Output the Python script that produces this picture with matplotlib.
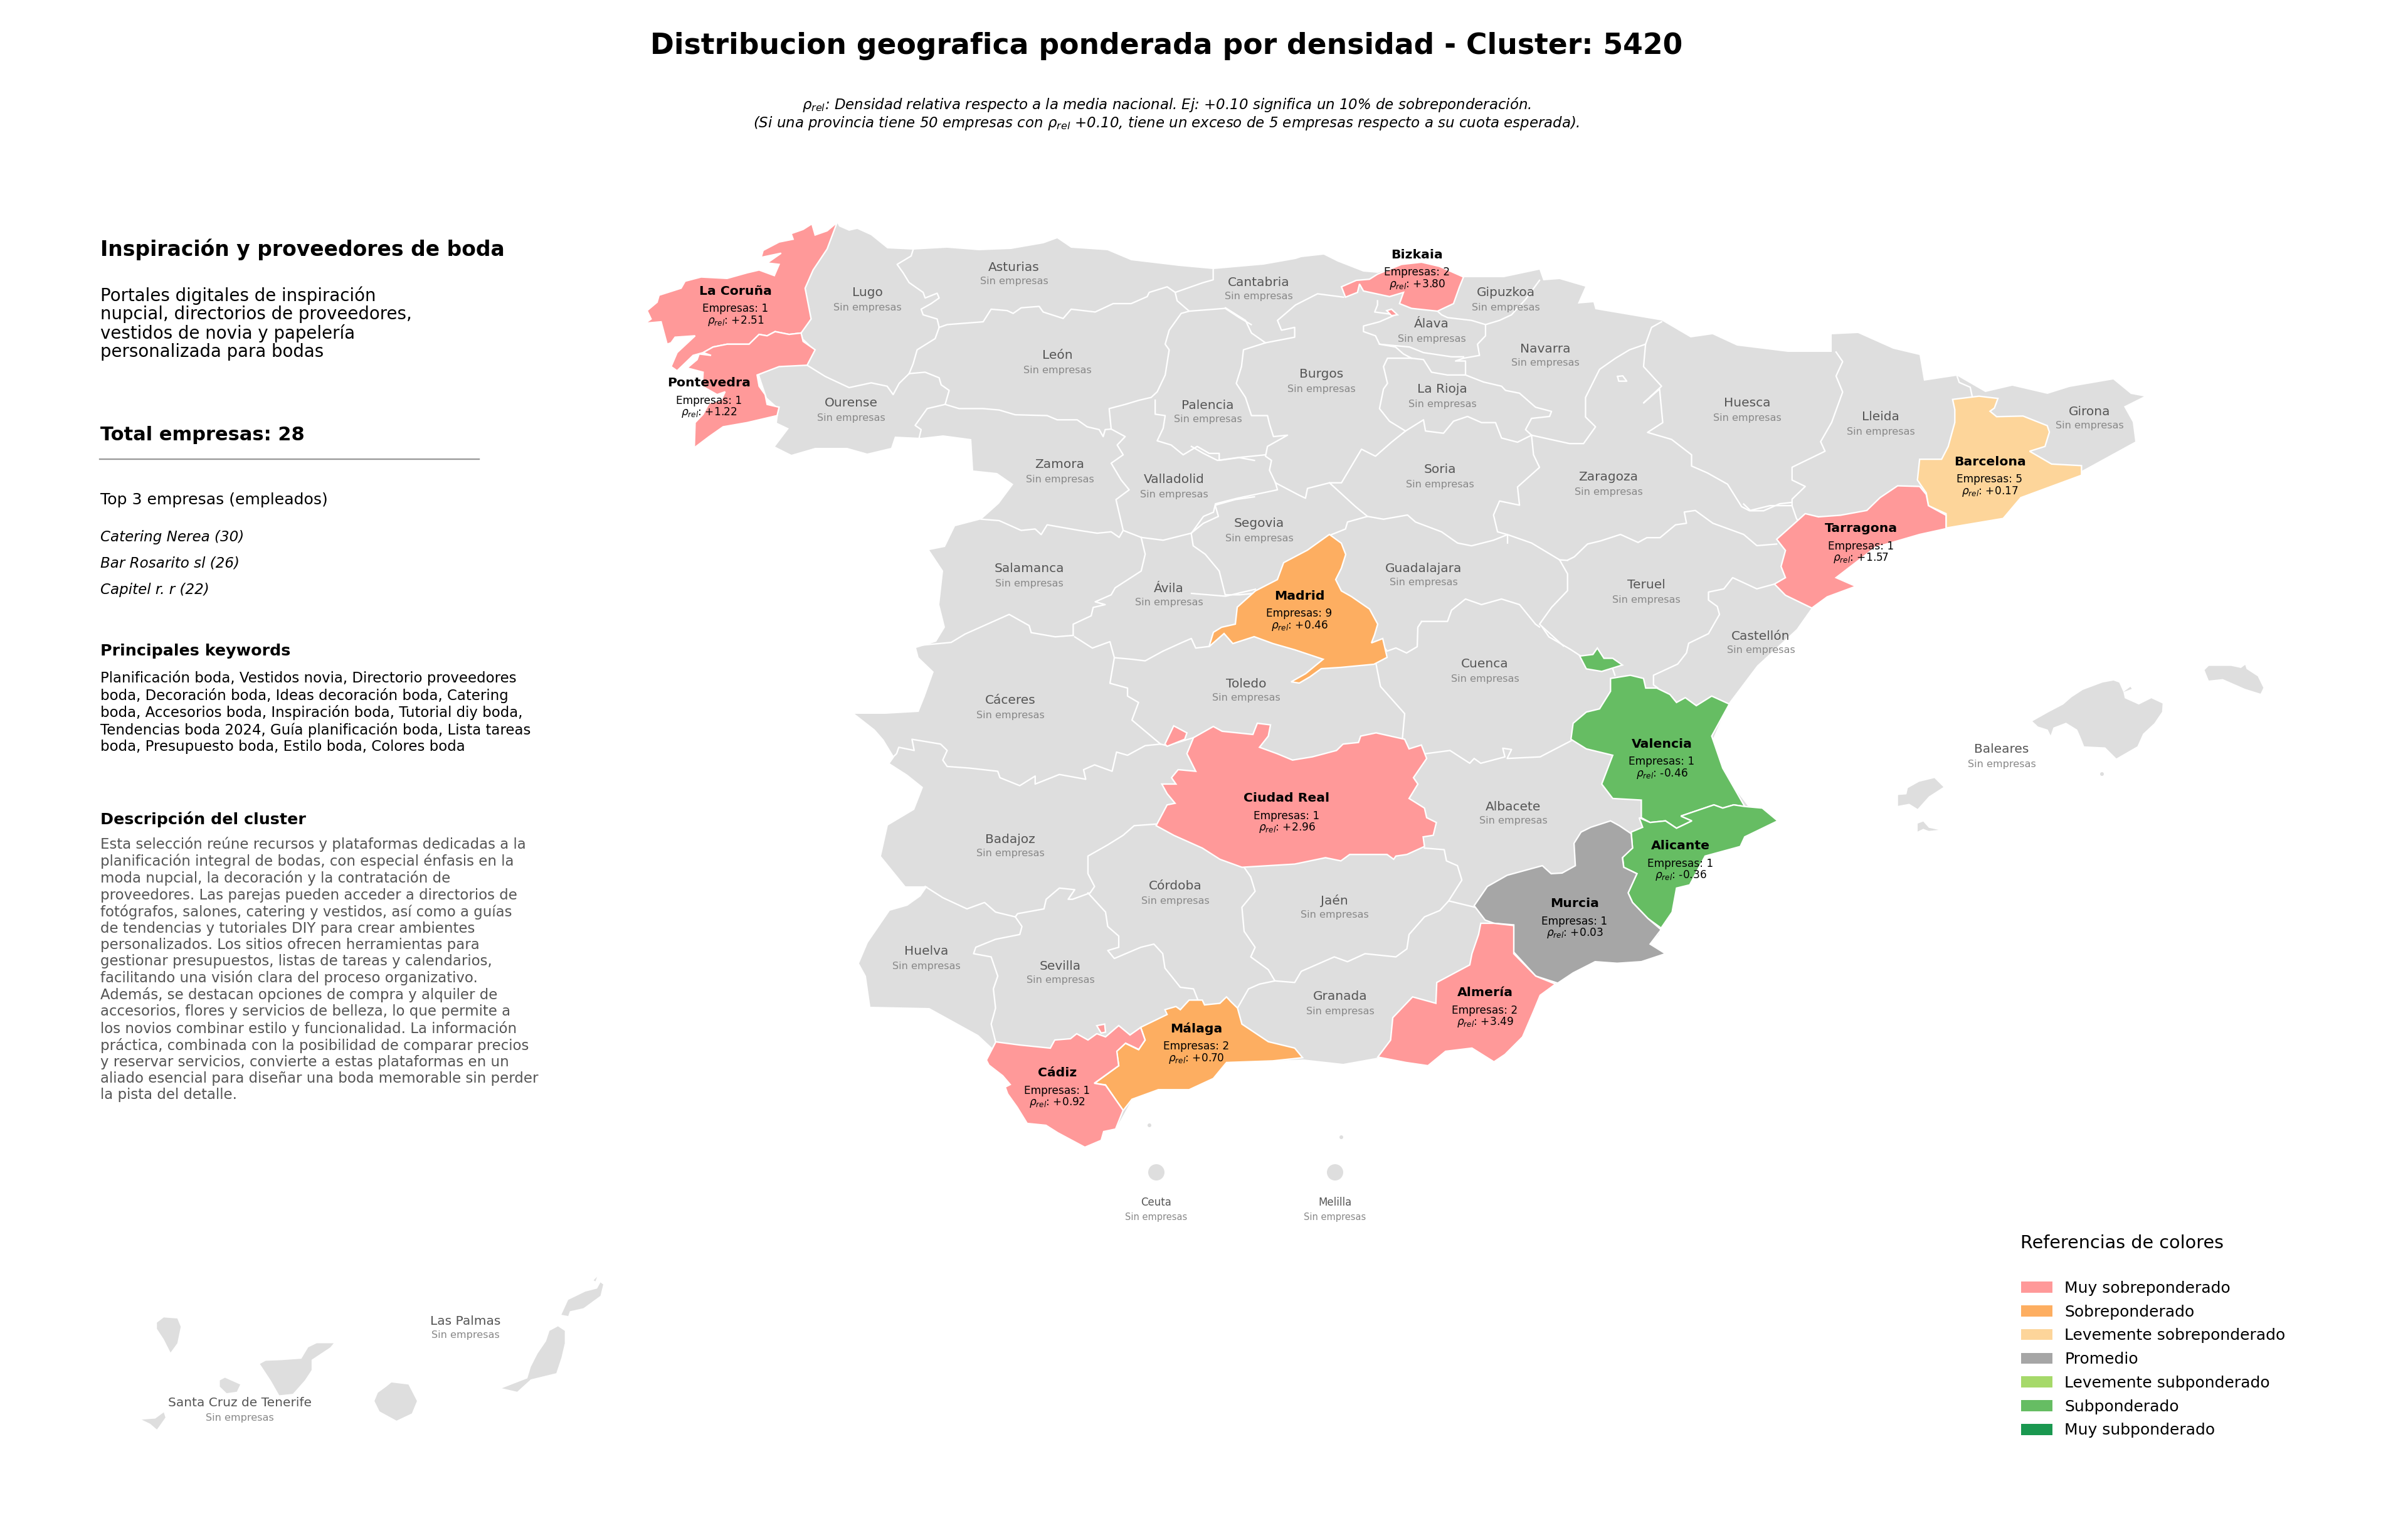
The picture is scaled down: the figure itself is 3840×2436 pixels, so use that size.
#Weighted geographic distribution map of one cluster, outlines traced by hand
import matplotlib
matplotlib.use("Agg")
import matplotlib.pyplot as plt
from matplotlib.patches import Polygon, Circle, Patch

#outlines were read on crops of the picture, these bring them back to picture pixels
def crop(x0, y0, kx, ky, pts):
	return [(x0 + p[0] * kx, y0 + p[1] * ky) for p in pts]
def nw(pts):
	return crop(1000, 330, 0.638, 0.4464, pts)
def ne(pts):
	return crop(1900, 330, 0.638, 0.4464, pts)
def cat(pts):
	return crop(2500, 500, 0.7015, 0.5102, pts)
def sw(pts):
	return crop(1300, 1000, 0.7015, 0.5102, pts)
def se(pts):
	return crop(2200, 1000, 0.7015, 0.5102, pts)
def bal(pts):
	return crop(3000, 1000, 0.4464, 0.333, pts)
def can(pts):
	return crop(150, 2000, 0.542, 0.329, pts)

#peninsula silhouette
peninsula = [(1335,355),(1338,361),(1354,368),(1367,365),(1389,375),(1415,396),(1456,398),(1510,395),(1561,399),(1612,397),(1664,388),(1686,380),(1708,395),(1766,399),(1804,415),(1880,424),(1935,429),(2015,422),(2066,413),(2075,410),(2111,406),(2133,417),(2174,433),(2197,435),(2235,422),(2267,417),(2296,424),(2334,442),(2398,442),(2455,430),(2461,447),(2487,445),(2528,457),(2516,484),(2541,482),(2544,493),(2650,511),(2696,538),(2731,533),(2770,551),(2851,561),(2921,561),(2921,533),(2963,531),(3019,556),(3061,566),(3068,607),(3121,599),(3166,625),(3209,615),(3265,628),(3300,617),(3370,605),(3398,628),(3419,632),(3387,648),(3401,673),(3405,704),(3321,750),(3223,793),(3194,827),(3103,842),(3061,852),(2991,872),(2928,921),(2959,935),(2914,951),(2889,969),(2865,1003),(2802,1061),(2756,1122),(2731,1179),(2753,1240),(2788,1286),(2810,1288),(2835,1309),(2782,1334),(2775,1349),(2719,1365),(2695,1411),(2674,1416),(2666,1454),(2649,1480),(2645,1490),(2631,1505),(2656,1520),(2617,1533),(2579,1536),(2544,1533),(2509,1551),(2484,1567),(2456,1587),(2446,1612),(2428,1653),(2400,1681),(2382,1693),(2347,1671),(2305,1676),(2277,1699),(2242,1694),(2198,1686),(2142,1696),(2079,1689),(2030,1691),(1956,1694),(1935,1719),(1896,1737),(1847,1737),(1805,1753),(1795,1771),(1779,1800),(1760,1804),(1756,1818),(1730,1829),(1687,1806),(1668,1794),(1638,1791),(1622,1765),(1607,1744),(1603,1733),(1611,1729),(1599,1715),(1577,1698),(1573,1690),(1588,1676),(1560,1650),(1482,1607),(1388,1605),(1381,1556),(1370,1536),(1384,1503),(1419,1452),(1447,1444),(1468,1429),(1479,1413),(1444,1413),(1405,1365),(1416,1316),(1458,1291),(1472,1255),(1447,1235),(1419,1217),(1426,1207),(1409,1179),(1395,1163),(1363,1138),(1412,1138),(1465,1135),(1475,1110),(1489,1071),(1465,1048),(1461,1033),(1493,1023),(1507,1000),(1498,964),(1504,910),(1482,877),(1507,872),(1523,839),(1565,828),(1593,803),(1616,772),(1590,754),(1552,750),(1549,700),(1504,694),(1469,698),(1427,696),(1421,714),(1383,723),(1351,714),(1300,714),(1262,725),(1236,712),(1258,683),(1239,674),(1242,651),(1223,634),(1211,598),(1242,584),(1287,582),(1300,558),(1281,540),(1278,531),(1293,509),(1284,455),(1297,428),(1319,397)]

#islands
mallorca = bal([(540,450),(600,405),(650,370),(680,335),(720,300),(790,265),(830,255),(850,265),(865,310),(890,285),(895,295),(865,310),(870,340),(920,370),(965,340),(1005,365),(1003,405),(975,460),(935,510),(915,570),(840,628),(800,575),(725,570),(710,520),(700,490),(660,457),(615,480),(605,518),(595,490),(560,475)])
menorca = bal([(1155,205),(1170,185),(1250,185),(1285,195),(1300,180),(1305,200),(1345,235),(1365,290),(1355,318),(1300,295),(1220,248),(1170,255)])
ibiza = bal([(60,803),(90,800),(95,770),(135,740),(190,722),(222,765),(170,810),(130,870),(100,845),(60,855)])
formentera = bal([(130,940),(150,930),(170,960),(205,970),(170,975),(150,965),(130,978)])
la_palma = can([(185,330),(205,305),(245,310),(255,350),(245,430),(225,475),(205,410),(185,360)])
tenerife = can([(488,530),(505,515),(550,512),(610,505),(630,450),(655,430),(705,430),(695,450),(640,510),(640,560),(620,610),(585,675),(545,682),(520,610)])
gomera = can([(370,610),(385,597),(430,630),(420,665),(390,672),(370,640)])
hierro = can([(140,800),(180,795),(205,765),(210,790),(185,848),(165,820)])
gran_canaria = can([(860,640),(875,620),(925,630),(950,710),(935,770),(890,805),(840,760),(825,710),(835,670)])
fuerteventura = can([(1340,370),(1365,348),(1385,370),(1385,430),(1375,500),(1360,575),(1285,605),(1245,665),(1200,648),(1275,600),(1285,545),(1305,480),(1330,420)])
lanzarote = can([(1375,292),(1395,220),(1445,180),(1480,165),(1490,135),(1498,145),(1490,200),(1440,260),(1400,275),(1395,298)])
graciosa = can([(1470,125),(1480,108),(1475,130)])
islands = [mallorca, menorca, ibiza, formentera, la_palma, tenerife, gomera, hierro, gran_canaria, fuerteventura, lanzarote, graciosa]
city_centres = [(1844,1869),(2129,1869)]
islets = [(1833,1794),(2139,1813),(3352,1234)]

#provinces with companies
la_coruna = [nw([(525,55),(500,85),(470,100),(462,60),(440,80),(410,95),(415,115),(380,125),(340,155),(335,180),(385,165),(350,200),(380,205),(368,245),(330,225),(300,235),(250,255),(185,250),(145,265),(135,290),(80,315),(75,340),(50,370),(60,400),(45,415),(85,410),(100,490),(110,485),(120,465),(170,460),(125,520),(110,570),(125,585),(165,530),(190,520),(215,500),(250,490),(305,490),(330,455),(350,460),(370,445),(405,455),(435,450),(460,400),(445,290),(465,225),(500,150)])]
pontevedra = [nw([(435,450),(405,455),(370,445),(350,460),(330,455),(305,490),(250,490),(215,500),(190,520),(210,530),(180,525),(175,545),(150,575),(190,590),(188,640),(225,670),(245,660),(235,690),(205,700),(190,740),(170,770),(168,860),(205,820),(240,785),(300,770),(375,745),(380,715),(350,705),(345,670),(330,640),(325,600),(380,570),(450,565),(470,510),(440,480)])]
bizkaia = [ne([(375,285),(412,262),(445,258),(465,240),(525,205),(575,197),(620,212),(680,250),(670,285),(655,345),(615,372),(550,362),(520,345),(530,305),(495,320),(430,300),(420,275),(415,305),(385,322)]),
	ne([(488,370),(500,365),(515,385),(500,388)])]
madrid = [[(2120,852),(2139,866),(2146,884),(2139,906),(2130,924),(2139,942),(2155,951),(2184,971),(2197,995),(2192,1012),(2187,1025),(2205,1018),(2212,1048),(2191,1059),(2138,1064),(2107,1066),(2089,1079),(2072,1089),(2059,1087),(2082,1074),(2110,1051),(2065,1036),(2030,1026),(2000,1015),(1966,1026),(1952,1010),(1928,1031),(1935,1008),(1948,1000),(1970,995),(1973,968),(2002,942),(2037,924),(2047,897),(2085,877)]]
barcelona = [cat([(875,268),(935,258),(978,265),(970,295),(960,305),(975,322),(1035,320),(1090,350),(1095,370),(1085,415),(1050,430),(1100,470),(1168,475),(1168,505),(1030,575),(990,640),(860,670),(860,625),(820,600),(815,560),(795,520),(800,455),(850,455),(865,415),(880,340),(880,300)])]
tarragona = [cat([(800,540),(815,565),(820,600),(860,630),(860,672),(800,690),(700,730),(610,825),(655,852),(590,885),(555,920),(495,880),(470,845),(495,825),(485,790),(495,740),(475,705),(520,650),(540,625),(570,635),(620,630),(680,615),(710,575),(750,538)])]
valencia = [se([(525,160),(570,150),(600,160),(605,190),(630,190),(660,210),(675,235),(695,220),(720,245),(755,215),(795,240),(755,340),(780,440),(830,560),(805,555),(780,565),(760,555),(685,590),(710,605),(675,628),(650,605),(615,610),(595,595),(595,540),(530,535),(505,490),(530,400),(470,380),(435,350),(440,300),(470,265),(500,255),(525,200)]),
	se([(455,90),(485,85),(495,65),(510,97),(530,97),(552,118),(505,138),(470,130)])]
alicante = [se([(590,595),(615,610),(650,605),(675,628),(710,605),(685,590),(760,555),(780,565),(805,555),(830,560),(870,565),(905,605),(830,655),(820,685),(740,715),(705,805),(675,815),(665,890),(640,940),(610,910),(575,860),(565,830),(585,770),(555,750),(552,715),(575,690),(572,640),(598,625)])]
murcia = [se([(525,605),(545,620),(572,645),(575,690),(552,720),(555,750),(585,770),(565,830),(575,860),(610,910),(640,945),(615,990),(650,1020),(595,1045),(540,1050),(490,1045),(440,1080),(405,1112),(355,1090),(305,1015),(305,930),(260,925),(240,915),(215,870),(245,810),(290,775),(370,745),(390,770),(415,768),(445,745),(442,675),(458,640),(480,625)])]
almeria = [se([(230,925),(260,925),(305,932),(305,1020),(355,1090),(400,1115),(365,1150),(350,1200),(325,1280),(285,1335),(260,1358),(210,1315),(150,1325),(110,1370),(60,1360),(-4,1343),(25,1290),(30,1220),(75,1155),(128,1175),(130,1110),(205,1055),(210,1020),(225,960)])]
ciudad_real = [sw([(860,345),(905,310),(925,325),(995,335),(1005,300),(1035,305),(1030,340),(1010,375),(1050,395),(1085,415),(1130,405),(1185,385),(1200,365),(1235,360),(1240,340),(1275,330),(1340,350),(1350,380),(1378,368),(1390,410),(1360,470),(1370,490),(1350,535),(1385,565),(1390,595),(1412,610),(1405,650),(1382,655),(1385,685),(1345,710),(1320,715),(1315,725),(1300,710),(1215,710),(1195,730),(1160,720),(1090,740),(1030,745),(970,750),(920,725),(880,690),(815,650),(775,620),(800,555),(818,550),(800,520),(788,490),(820,490),(810,470),(825,445),(865,450),(845,395)]),
	sw([(815,308),(845,330),(840,350),(800,372),(795,365)])]
malaga = [sw([(850,1165),(880,1165),(885,1180),(920,1175),(935,1155),(945,1170),(960,1190),(970,1240),(1030,1295),(1090,1315),(1108,1345),(1040,1355),(935,1360),(905,1410),(850,1445),(780,1445),(720,1475),(700,1510),(660,1430),(635,1425),(690,1370),(685,1325),(705,1300),(735,1320),(750,1290),(740,1250),(800,1210),(795,1195),(820,1185),(830,1195)])]
cadiz = [[(1588,1661),(1626,1666),(1675,1671),(1682,1658),(1707,1656),(1717,1648),(1735,1658),(1749,1648),(1763,1653),(1784,1635),(1802,1650),(1819,1638),(1826,1658),(1816,1673),(1795,1663),(1781,1676),(1784,1699),(1745,1727),(1763,1730),(1791,1770),(1779,1800),(1760,1804),(1756,1818),(1730,1829),(1687,1806),(1668,1794),(1638,1791),(1622,1765),(1607,1744),(1603,1733),(1611,1729),(1599,1715),(1577,1698),(1573,1690)],
	sw([(640,1245),(658,1240),(660,1265),(650,1268)])]

#province limits
borders = [
	nw([(715,152),(710,175),(675,205),(690,235),(705,270),(740,305),(745,325),(775,308),(780,325),(760,345),(735,365),(740,385),(775,400),(780,430)]),
	nw([(780,430),(800,420),(890,410),(910,365),(950,370),(965,380),(985,360),(1030,355),(1040,375),(1090,398),(1110,365),(1170,375),(1215,345),(1260,345),(1300,320),(1305,305),(1350,285),(1370,305),(1440,270),(1465,260),(1465,220)]),
	nw([(780,430),(770,470),(725,510),(715,560),(705,595)]),
	nw([(450,565),(495,605),(555,645),(610,628),(650,640),(665,670),(680,630),(705,595)]),
	nw([(705,595),(745,590),(780,610),(785,635),(805,655),(795,705)]),
	nw([(795,705),(750,720),(720,780),(735,795),(730,825)]),
	nw([(795,705),(830,720),(890,720),(930,725),(970,742),(1050,745),(1075,760),(1125,760),(1150,785),(1180,795),(1190,820),(1195,795),(1210,793)]),
	nw([(1210,793),(1205,720),(1245,705),(1280,690),(1310,680),(1325,660),(1345,600),(1355,510),(1345,490),(1355,440),(1385,380),(1405,372)]),
	nw([(1370,305),(1375,335),(1405,372),(1495,362),(1530,395),(1560,420)]),
	nw([(1320,690),(1320,740),(1345,745),(1340,790),(1325,835),(1360,850),(1390,885),(1425,855),(1455,880),(1480,880),(1480,905),(1530,895),(1568,905)]),
	ne([(85,360),(135,405),(150,450),(185,485),(258,465),(258,430),(225,440),(215,405),(260,350),(315,310),(380,322)]),
	ne([(185,485),(130,510),(125,570),(112,630),(135,680),(150,745),(190,745),(195,775),(205,820),(240,815),(190,855),(185,890),(200,905),(195,940),(210,985)]),
	ne([(0,855),(30,880),(65,905),(115,895),(150,890),(185,885)]),
	ne([(210,985),(270,1030),(285,1040),(290,1005),(345,985),(375,985),(425,865),(460,890),(500,840),(535,800)]),
	ne([(535,800),(495,765),(470,720),(480,650),(490,630),(480,570),(490,540),(550,540)]),
	ne([(465,335),(465,350),(458,375),(510,385),(470,410),(430,425),(430,445),(460,460),(470,490),(510,500),(530,525),(550,540)]),
	ne([(615,372),(625,385),(640,395),(700,405),(735,420),(735,460),(715,490),(720,530),(680,540),(660,550),(685,550),(685,600)]),
	ne([(470,490),(545,500),(580,520),(650,535),(680,535)]),
	ne([(735,420),(770,405),(800,385),(835,330),(870,262)]),
	ne([(685,600),(730,625),(775,640),(785,655),(820,665),(860,715),(900,730),(895,748),(850,755),(835,795),(850,815)]),
	ne([(550,540),(580,545),(600,590),(640,600),(685,600)]),
	ne([(535,800),(580,760),(585,800),(630,808),(655,765),(690,748),(725,770),(760,770),(775,825),(815,840),(850,815)]),
	ne([(850,815),(945,845),(980,845),(1010,785),(985,750),(985,680),(1020,580),(1060,540),(1095,510),(1135,490),(1150,430),(1175,410)]),
	ne([(1135,490),(1130,570),(1175,640),(1130,700),(1170,650),(1178,770),(1140,805),(1200,830),(1250,885),(1250,925),(1290,950),(1340,990),(1375,1070),(1395,1085),(1430,1085),(1470,1060),(1500,1055)]),
	ne([(1065,605),(1078,603),(1088,622),(1068,622),(1065,605)]),
	ne([(850,815),(855,885),(870,930),(815,1000),(820,1065),(770,1050),(755,1100),(765,1160),(790,1170),(790,1200)]),
	ne([(440,1105),(480,1115),(540,1100),(560,1125),(625,1160),(665,1200),(700,1210),(755,1190),(790,1170)]),
	ne([(345,985),(410,1070),(440,1105),(390,1125),(385,1150),(350,1170)]),
	ne([(210,985),(215,1010),(115,1040),(60,1060),(55,1090),(30,1105),(0,1165)]),
	[(2206,1030),(2212,1038),(2226,1033),(2243,1041),(2260,1031),(2261,1000),(2267,991)],
	ne([(575,1480),(640,1480),(650,1440),(685,1400),(725,1420),(775,1400),(820,1420),(860,1490),(870,1500)]),
	ne([(790,1170),(850,1200),(920,1260),(940,1310),(940,1370),(900,1430),(870,1490),(930,1568)]),
	ne([(920,1260),(940,1262)]),
	cat([(0,770),(15,760),(45,720),(75,710),(120,690),(160,715),(180,700),(210,700),(245,660),(270,655),(265,620),(290,615),(330,655),(400,690),(430,725),(475,720)]),
	cat([(470,845),(430,860),(375,825),(355,860),(320,870),(320,895),(340,915),(345,940),(320,1000),(275,1030),(270,1060),(250,1095),(195,1130),(195,1160),(205,1170)]),
	se([(370,0),(385,30),(435,70),(455,88)]),
	se([(530,130),(535,150)]),
	cat([(510,600),(520,640),(525,650)]),
	cat([(610,120),(625,150),(610,195),(625,245),(600,340),(575,400),(585,430),(510,480),(510,520),(540,540),(510,580),(510,600),(460,600),(415,615),(400,595)]),
	cat([(885,195),(890,215),(915,230),(920,262)]),
	nw([(1210,793),(1245,820),(1225,850),(1240,885),(1210,915),(1235,975),(1255,1010),(1222,1045),(1240,1155)]),
	nw([(885,1115),(930,1120),(985,1155),(1020,1150),(1035,1170),(1050,1135),(1130,1155),(1175,1165),(1210,1160),(1230,1180),(1240,1155)]),
	nw([(1240,1155),(1285,1180),(1340,1190),(1410,1165),(1440,1130),(1478,1105),(1470,1065),(1520,1045),(1568,1035)]),
	nw([(1285,1180),(1295,1240),(1285,1300),(1220,1360),(1210,1385),(1170,1410),(1195,1420),(1165,1430),(1160,1460),(1115,1490),(1115,1530)]),
	nw([(1410,1165),(1415,1210),(1445,1240),(1480,1300),(1495,1385),(1530,1385),(1568,1380)]),
	ne([(0,1380),(85,1390),(160,1365)]),
	nw([(735,1565),(810,1555),(845,1525),(900,1490),(955,1455),(1005,1495),(1010,1520),(1070,1535),(1115,1530)]),
	sw([(590,30),(630,65),(670,45),(680,95),(720,100),(750,105),(790,75),(830,50),(855,35),(865,65),(895,60)]),
	sw([(680,95),(670,175),(710,190),(710,215),(735,235),(720,290),(785,365)]),
	sw([(785,365),(750,370),(710,400),(685,390),(675,450),(635,430),(610,445),(615,475),(555,460),(500,490),(500,465),(465,495),(420,470),(415,450),(350,440),(300,435),(290,415),(300,385),(285,365),(220,350),(225,385),(190,375),(185,395),(170,415)]),
	sw([(785,365),(800,370),(860,345)]),
	sw([(1275,115),(1285,185),(1340,270),(1335,345)]),
	sw([(775,615),(725,620),(700,650),(665,680),(620,715),(620,770),(635,810),(625,830),(585,850),(575,850),(590,820),(555,815),(525,850),(520,880),(460,895),(455,905)]),
	sw([(455,905),(410,890),(385,860),(345,880),(290,845),(250,810)]),
	sw([(455,905),(470,935),(465,960),(410,975),(365,1000),(360,1020),(400,1030),(415,1090),(405,1130),(410,1190),(400,1240),(410,1295)]),
	sw([(620,830),(660,890),(665,935),(690,965),(690,1000),(665,1010),(680,1035),(740,1000),(770,990),(790,1020),(795,1065),(830,1125),(860,1130),(870,1165)]),
	sw([(975,750),(990,780),(1000,825),(970,875),(975,950),(1000,1000),(990,1030),(1030,1070),(1045,1105)]),
	sw([(1045,1105),(1010,1115),(985,1130),(960,1190)]),
	sw([(1045,1105),(1090,1110),(1105,1075),(1180,1030),(1210,1045),(1250,1020),(1320,1030),(1345,1005),(1350,960),(1385,905),(1420,885),(1440,855)]),
	sw([(1385,690),(1430,695),(1435,730),(1460,745),(1470,790),(1440,855),(1500,875)]),
	se([(105,395),(160,385),(205,425),(215,410),(230,425),(285,405),(280,378),(300,382),(290,410),(365,405),(435,355)]),
	se([(595,595),(600,625),(575,640)]),
]

#provinces without companies and where their labels go
empty_names = ["Asturias","Lugo","León","Ourense","Zamora","Palencia","Valladolid","Salamanca","Ávila","Cantabria","Gipuzkoa","Álava","Navarra","Burgos","La Rioja","Huesca","Soria","Zaragoza","Segovia","Guadalajara","Teruel","Castellón","Lleida","Girona","Toledo","Cáceres","Cuenca","Albacete","Badajoz","Córdoba","Jaén","Huelva","Sevilla","Granada","Baleares","Las Palmas","Santa Cruz de Tenerife"]
empty_x = [1617,1383,1686,1357,1690,1926,1872,1641,1864,2007,2401,2283,2464,2107,2300,2786,2296,2565,2008,2270,2625,2808,2999,3332,1987,1611,2368,2413,1611,1874,2128,1477,1691,2137,3192,742,382]
empty_y = [426,467,567,643,741,646,765,907,938,450,467,517,556,597,621,643,749,761,835,906,933,1014,665,656,1090,1117,1059,1286,1338,1413,1436,1517,1540,1589,1195,2106,2237]

#provinces with companies: values and labels
names = ["La Coruña","Pontevedra","Bizkaia","Madrid","Barcelona","Tarragona","Valencia","Alicante","Murcia","Almería","Ciudad Real","Málaga","Cádiz"]
companies = [1,1,2,9,5,1,1,1,1,2,1,2,1]
rho = [2.51,1.22,3.80,0.46,0.17,1.57,-0.46,-0.36,0.03,3.49,2.96,0.70,0.92]
levels = [0,0,0,1,2,0,5,5,3,0,0,1,0]
shapes = [la_coruna,pontevedra,bizkaia,madrid,barcelona,tarragona,valencia,alicante,murcia,almeria,ciudad_real,malaga,cadiz]
names_x = [1173,1131,2260,2072,3173,2968,2650,2680,2511,2368,2052,1908,1686]
names_y = [464,611,406,950,736,843,1186,1349,1441,1583,1273,1640,1711]

legend_labels = ["Muy sobreponderado","Sobreponderado","Levemente sobreponderado","Promedio","Levemente subponderado","Subponderado","Muy subponderado"]
legend_colors = ["#ff9999","#fdae61","#fdd59a","#a6a6a6","#a6d96a","#66bd63","#1a9850"]

header_lines = ["Portales digitales de inspiración","nupcial, directorios de proveedores,","vestidos de novia y papelería","personalizada para bodas"]
top_companies = ["Catering Nerea (30)","Bar Rosarito sl (26)","Capitel r. r (22)"]
keyword_lines = ["Planificación boda, Vestidos novia, Directorio proveedores","boda, Decoración boda, Ideas decoración boda, Catering","boda, Accesorios boda, Inspiración boda, Tutorial diy boda,","Tendencias boda 2024, Guía planificación boda, Lista tareas","boda, Presupuesto boda, Estilo boda, Colores boda"]
description_lines = ["Esta selección reúne recursos y plataformas dedicadas a la","planificación integral de bodas, con especial énfasis en la","moda nupcial, la decoración y la contratación de","proveedores. Las parejas pueden acceder a directorios de","fotógrafos, salones, catering y vestidos, así como a guías","de tendencias y tutoriales DIY para crear ambientes","personalizados. Los sitios ofrecen herramientas para","gestionar presupuestos, listas de tareas y calendarios,","facilitando una visión clara del proceso organizativo.","Además, se destacan opciones de compra y alquiler de","accesorios, flores y servicios de belleza, lo que permite a","los novios combinar estilo y funcionalidad. La información","práctica, combinada con la posibilidad de comparar precios","y reservar servicios, convierte a estas plataformas en un","aliado esencial para diseñar una boda memorable sin perder","la pista del detalle."]

GREY = "#dedede"

fig = plt.figure(figsize=(16, 10.15), dpi=240)
ax = fig.add_axes([0, 0, 1, 1])
ax.set_xlim(0, 3840)
ax.set_ylim(2436, 0)
ax.axis("off")

#map
ax.add_patch(Polygon(peninsula, closed=True, facecolor=GREY, edgecolor="none", zorder=1))
for island in islands:
	ax.add_patch(Polygon(island, closed=True, facecolor=GREY, edgecolor="none", zorder=1))
for centre in city_centres:
	ax.add_patch(Circle(centre, 13, facecolor=GREY, edgecolor="none", zorder=1))
for centre in islets:
	ax.add_patch(Circle(centre, 3, facecolor=GREY, edgecolor="none", zorder=1))
for line in borders:
	ax.plot([p[0] for p in line], [p[1] for p in line], color="white", lw=0.7, zorder=2)
for shape, level in zip(shapes, levels):
	for part in shape:
		ax.add_patch(Polygon(part, closed=True, facecolor=legend_colors[level], edgecolor="white", lw=0.7, zorder=3))

#province labels
for name, x, y in zip(empty_names, empty_x, empty_y):
	ax.text(x, y, name, ha="center", va="center", fontsize=6.05, color="#555555", zorder=5)
	ax.text(x, y + 23, "Sin empresas", ha="center", va="center", fontsize=4.85, color="#888888", zorder=5)
for name, x in zip(["Ceuta", "Melilla"], [1844, 2129]):
	ax.text(x, 1917, name, ha="center", va="center", fontsize=5, color="#555555", zorder=5)
	ax.text(x, 1941, "Sin empresas", ha="center", va="center", fontsize=4.4, color="#888888", zorder=5)
for name, x, y, count, value in zip(names, names_x, names_y, companies, rho):
	ax.text(x, y, name, ha="center", va="center", fontsize=6.1, fontweight="bold", color="black", zorder=5)
	ax.text(x, y + 28, "Empresas: %d" % count, ha="center", va="center", fontsize=5.1, color="black", zorder=5)
	ax.text(x, y + 47, r"$\rho_{rel}$: %+.2f" % value, ha="center", va="center", fontsize=5.1, color="black", zorder=5)

#title and note
ax.text(1860, 73, "Distribucion geografica ponderada por densidad - Cluster: 5420", ha="center", va="center", fontsize=13.7, fontweight="bold")
ax.text(1860, 167, r"$\rho_{rel}$: Densidad relativa respecto a la media nacional. Ej: +0.10 significa un 10% de sobreponderación.", ha="center", va="center", fontsize=6.85, style="italic")
ax.text(1860, 196, r"(Si una provincia tiene 50 empresas con $\rho_{rel}$ +0.10, tiene un exceso de 5 empresas respecto a su cuota esperada).", ha="center", va="center", fontsize=6.85, style="italic")

#left panel
ax.text(160, 398, "Inspiración y proveedores de boda", va="center", fontsize=9.9, fontweight="bold")
ax.text(160, 456, "\n".join(header_lines), va="top", fontsize=8.3, linespacing=1.07)
ax.text(160, 693, "Total empresas: 28", va="center", fontsize=9.15, fontweight="bold")
ax.plot([159, 764], [732, 732], color="#999999", lw=0.7)
ax.text(160, 797, "Top 3 empresas (empleados)", va="center", fontsize=7.55)
for i, company in enumerate(top_companies):
	ax.text(160, 856 + i * 42, company, va="center", fontsize=6.9, style="italic")
ax.text(160, 1038, "Principales keywords", va="center", fontsize=7.6, fontweight="bold")
ax.text(160, 1069, "\n".join(keyword_lines), va="top", fontsize=6.85, linespacing=1.19)
ax.text(160, 1306, "Descripción del cluster", va="center", fontsize=7.6, fontweight="bold")
ax.text(160, 1334, "\n".join(description_lines), va="top", fontsize=6.85, color="#555555", linespacing=1.17)

#legend
handles = [Patch(facecolor=c, edgecolor="none", label=l) for c, l in zip(legend_colors, legend_labels)]
ax.legend(handles=handles, title="Referencias de colores\n", frameon=False, fontsize=7.5, title_fontsize=8.6, labelspacing=0.552, alignment="left", loc="lower left", bbox_to_anchor=(3200 / 3840, 1 - 2315 / 2436))

plt.savefig("out.png")
plt.close()
